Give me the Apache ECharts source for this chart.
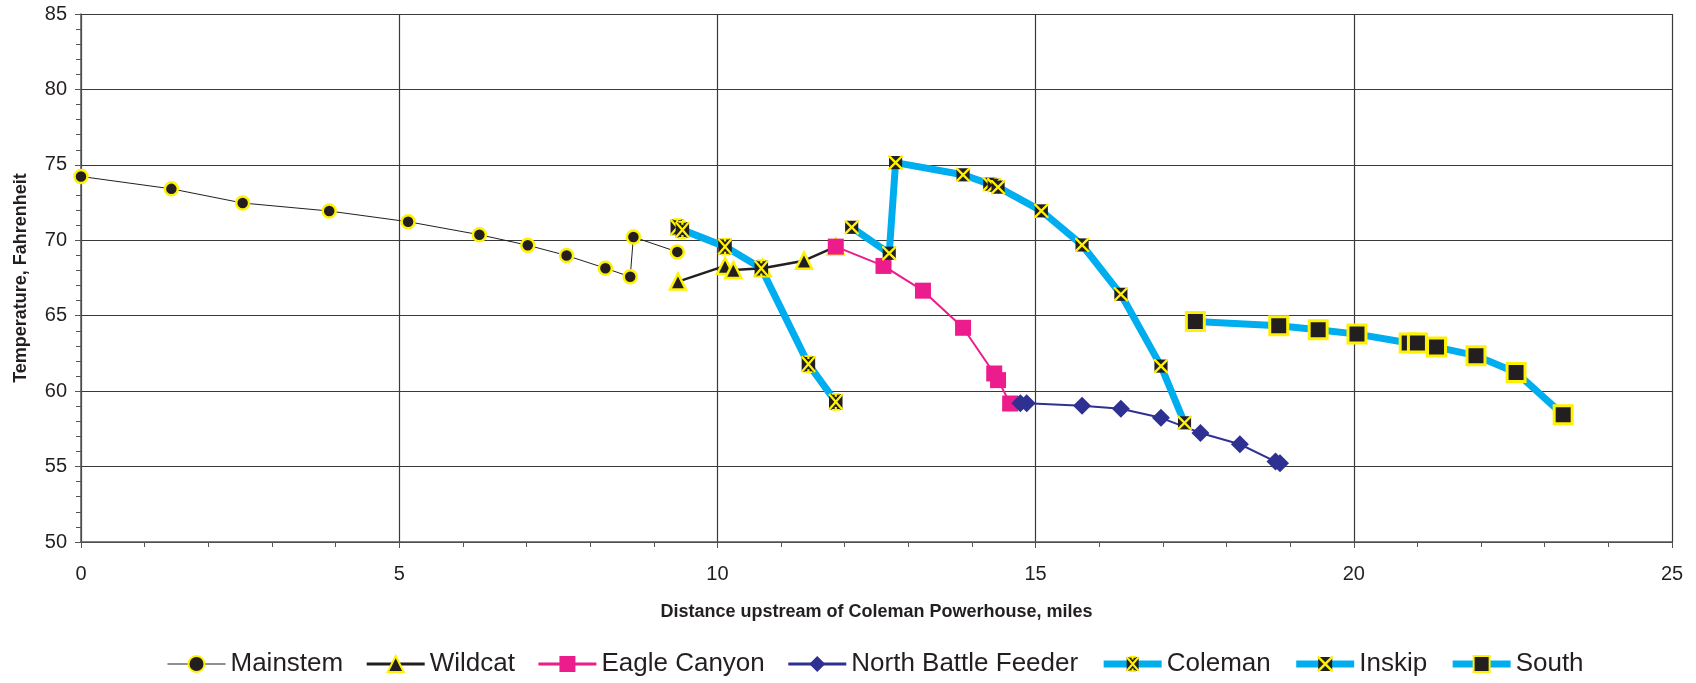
<!DOCTYPE html>
<html>
<head>
<meta charset="utf-8">
<script src="https://cdn.jsdelivr.net/npm/echarts@6/dist/echarts.min.js"></script>
<style>
html,body{margin:0;padding:0;background:#fff;}
#chart{width:1696px;height:683px;}
</style>
</head>
<body>
<div id="chart"></div>
<script>
// ---- Data (distance upstream in miles, temperature in °F) ----
const mainstemX = [0, 1.42, 2.54, 3.90, 5.14, 6.26, 7.02, 7.63, 8.24, 8.63, 8.68, 9.37];
const mainstemY = [74.23, 73.41, 72.47, 71.94, 71.23, 70.37, 69.67, 68.99, 68.15, 67.58, 70.22, 69.23];

const wildcatX = [9.38, 10.12, 10.25, 10.71, 11.36, 11.86];
const wildcatY = [67.26, 68.30, 68.03, 68.14, 68.65, 69.58];

const eagleX = [11.86, 12.61, 13.23, 13.86, 14.35, 14.41, 14.60];
const eagleY = [69.58, 68.30, 66.66, 64.20, 61.17, 60.73, 59.18];

const nbfX = [14.76, 14.86, 15.73, 16.34, 16.97, 17.59, 18.21, 18.77, 18.84];
const nbfY = [59.20, 59.20, 59.03, 58.83, 58.23, 57.23, 56.48, 55.33, 55.22];

const colemanX = [9.37, 9.45, 10.12, 10.69, 11.43, 11.86];
const colemanY = [70.86, 70.69, 69.58, 68.14, 61.79, 59.29];

const inskipX = [12.11, 12.70, 12.80, 13.86, 14.28, 14.35, 14.41, 15.09, 15.73, 16.34, 16.97, 17.34];
const inskipY = [70.86, 69.14, 75.15, 74.34, 73.72, 73.65, 73.52, 71.95, 69.69, 66.42, 61.66, 57.90];

const southX = [17.51, 18.82, 19.44, 20.05, 20.87, 21.00, 21.30, 21.92, 22.55, 23.29];
const southY = [64.62, 64.34, 64.07, 63.78, 63.19, 63.19, 62.92, 62.35, 61.24, 58.43];

const seriesNames = ['Mainstem', 'Wildcat', 'Eagle Canyon', 'North Battle Feeder', 'Coleman', 'Inskip', 'South'];
// ---------------------------------------------------------------

function pairs(xs, ys) { return xs.map((x, i) => [x, ys[i]]); }

const YEL = '#fff200', BLK = '#231f20', CYAN = '#00aeef', PINK = '#ec1c8c', NAVY = '#2e3192';
function svgUri(s) { return 'image://data:image/svg+xml;charset=utf-8,' + encodeURIComponent(s); }
const starSym = svgUri("<svg xmlns='http://www.w3.org/2000/svg' width='32' height='32' viewBox='0 0 32 32'><rect x='4' y='2' width='24' height='28' fill='" + BLK + "'/><path d='M4 2L28 30M28 2L4 30M16 0L16 7M16 25L16 32M9 1.5L23 1.5M9 30.5L23 30.5' stroke='" + YEL + "' stroke-width='4' fill='none'/></svg>");
const xSym = svgUri("<svg xmlns='http://www.w3.org/2000/svg' width='32' height='32' viewBox='0 0 32 32'><rect x='2' y='2' width='28' height='28' fill='" + BLK + "'/><path d='M1 1L31 31M31 1L1 31' stroke='" + YEL + "' stroke-width='5' fill='none'/></svg>");

const FONT = '"Liberation Sans", Arial, Helvetica, sans-serif';

const legendLine = {
  'Mainstem': { color: BLK, width: 1 },
  'Wildcat': { color: BLK, width: 3 },
  'Eagle Canyon': { color: PINK, width: 3 },
  'North Battle Feeder': { color: NAVY, width: 3 },
  'Coleman': { color: CYAN, width: 7 },
  'Inskip': { color: CYAN, width: 7 },
  'South': { color: CYAN, width: 7 }
};

const chart = echarts.init(document.getElementById('chart'), null, { renderer: 'canvas' });
chart.setOption({
  backgroundColor: '#ffffff',
  animation: false,
  grid: { left: 81, right: 24, top: 14, bottom: 141, containLabel: false },
  legend: {
    bottom: 1,
    left: 162,
    itemWidth: 58,
    itemHeight: 20,
    itemGap: 22,
    textStyle: { fontFamily: FONT, fontSize: 26, color: BLK },
    data: seriesNames.map(n => ({ name: n, lineStyle: legendLine[n] }))
  },
  xAxis: {
    type: 'value', min: 0, max: 25, interval: 5,
    name: 'Distance upstream of Coleman Powerhouse, miles',
    nameLocation: 'middle', nameGap: 61,
    nameTextStyle: { fontFamily: FONT, fontSize: 18, fontWeight: 'bold', color: BLK },
    axisLine: { show: true, onZero: false, lineStyle: { color: '#555', width: 1.5 } },
    axisTick: { show: true, length: 6, lineStyle: { color: '#555' } },
    minorTick: { show: true, splitNumber: 5, length: 5, lineStyle: { color: '#555' } },
    axisLabel: { fontFamily: FONT, fontSize: 20, color: BLK, margin: 22 },
    splitLine: { show: true, lineStyle: { color: '#3a3a3a', width: 1.2 } }
  },
  yAxis: {
    type: 'value', min: 50, max: 85, interval: 5,
    name: 'Temperature, Fahrenheit',
    nameLocation: 'middle', nameGap: 51,
    nameTextStyle: { fontFamily: FONT, fontSize: 18, fontWeight: 'bold', color: BLK },
    axisLine: { show: true, onZero: false, lineStyle: { color: '#555', width: 1.5 } },
    axisTick: { show: true, length: 6, lineStyle: { color: '#555' } },
    minorTick: { show: true, splitNumber: 5, length: 5, lineStyle: { color: '#555' } },
    axisLabel: { fontFamily: FONT, fontSize: 20, color: BLK, margin: 14 },
    splitLine: { show: true, lineStyle: { color: '#3a3a3a', width: 1.2 } }
  },
  series: [
    { name: 'Mainstem', type: 'line', data: pairs(mainstemX, mainstemY),
      symbol: 'circle', symbolSize: 13,
      lineStyle: { color: BLK, width: 1 },
      itemStyle: { color: BLK, borderColor: YEL, borderWidth: 2.5 } },
    { name: 'Wildcat', type: 'line', data: pairs(wildcatX, wildcatY),
      symbol: 'triangle', symbolSize: 16,
      lineStyle: { color: BLK, width: 2.5 },
      itemStyle: { color: BLK, borderColor: YEL, borderWidth: 2.5 } },
    { name: 'Eagle Canyon', type: 'line', data: pairs(eagleX, eagleY),
      symbol: 'rect', symbolSize: 16,
      lineStyle: { color: PINK, width: 2 },
      itemStyle: { color: PINK } },
    { name: 'North Battle Feeder', type: 'line', data: pairs(nbfX, nbfY),
      symbol: 'diamond', symbolSize: 18,
      lineStyle: { color: NAVY, width: 2 },
      itemStyle: { color: NAVY } },
    { name: 'Coleman', type: 'line', data: pairs(colemanX, colemanY),
      symbol: starSym, symbolSize: 18,
      lineStyle: { color: CYAN, width: 7 },
      itemStyle: { color: CYAN } },
    { name: 'Inskip', type: 'line', data: pairs(inskipX, inskipY),
      symbol: xSym, symbolSize: 15,
      lineStyle: { color: CYAN, width: 7 },
      itemStyle: { color: CYAN } },
    { name: 'South', type: 'line', data: pairs(southX, southY),
      symbol: 'rect', symbolSize: 18,
      lineStyle: { color: CYAN, width: 7 },
      itemStyle: { color: BLK, borderColor: YEL, borderWidth: 3 } }
  ]
});
</script>
</body>
</html>
